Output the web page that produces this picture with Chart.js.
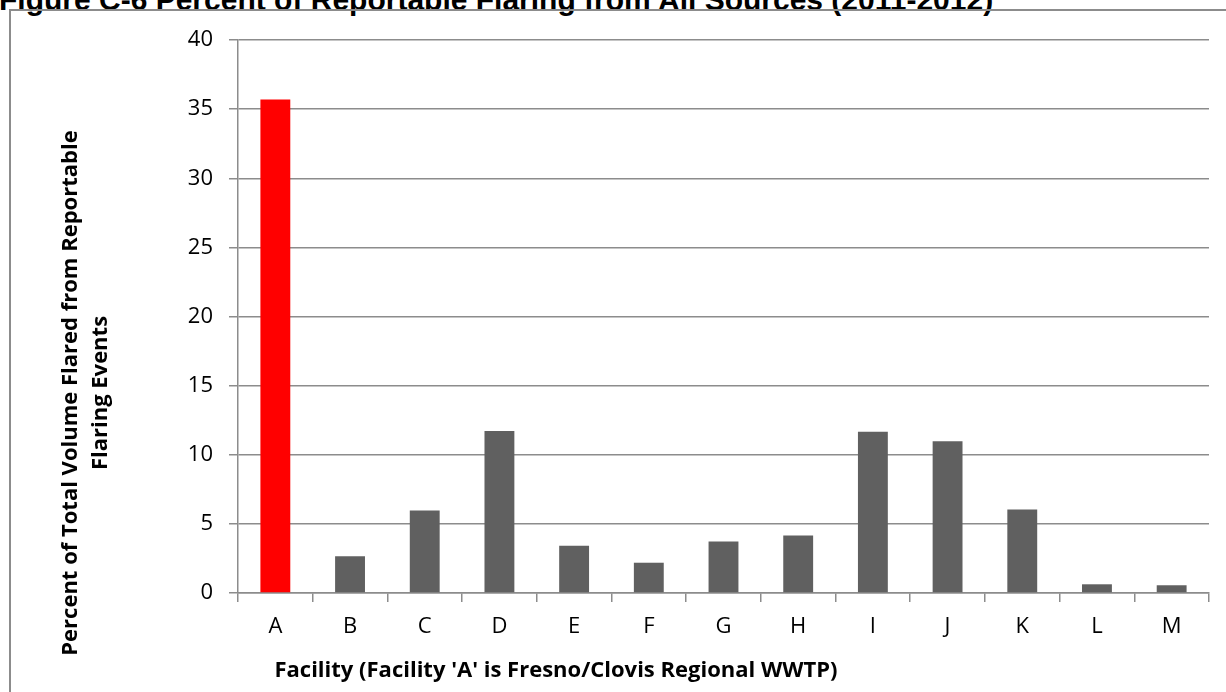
<!DOCTYPE html>
<html>
<head>
<meta charset="utf-8">
<script src="https://cdn.jsdelivr.net/npm/chart.js@4.4.1/dist/chart.umd.min.js"></script>
<style>
    html, body { margin: 0; padding: 0; background: #fff; overflow: hidden; }
    #wrap { position: relative; width: 1226px; height: 692px; }
    #frame {
        position: absolute; left: 9px; top: 9px; right: -5px; bottom: -5px;
        border-left: 2px solid #8c8c8c; border-top: 2px solid #8c8c8c;
    }
    #fig-title {
        position: absolute; left: -1px; top: -17px; white-space: nowrap;
        font: bold 30px "Liberation Sans", Arial, sans-serif; color: #000;
    }
    #y-title {
        position: absolute; left: 83px; top: 393px; width: 700px;
        transform: translate(-50%, -50%) rotate(-90deg);
        text-align: center; line-height: 31px; color: #000;
        font: bold 22px "Open Sans", sans-serif;
    }
    #x-title {
        position: absolute; left: 556px; top: 668px; white-space: nowrap;
        transform: translate(-50%, -50%);
        font: bold 22px "Open Sans", sans-serif; color: #000;
    }
    canvas { position: absolute; left: 0; top: 0; }
</style>
</head>
<body>
<div id="wrap">
    <div id="fig-title">Figure C-6 Percent of Reportable Flaring from All Sources (2011-2012)</div>
    <div id="frame"></div>
    <canvas id="flaring-chart" width="1226" height="692"></canvas>
    <div id="y-title">Percent of Total Volume Flared from Reportable<br>Flaring Events</div>
    <div id="x-title">Facility (Facility 'A' is Fresno/Clovis Regional WWTP)</div>
</div>
<script>
// Chart data
const facilities = ['A', 'B', 'C', 'D', 'E', 'F', 'G', 'H', 'I', 'J', 'K', 'L', 'M'];
const percentFlared = [35.7, 2.65, 5.97, 11.72, 3.42, 2.19, 3.73, 4.16, 11.67, 10.97, 6.04, 0.63, 0.56];
const yTickValues = [0, 5, 10, 15, 20, 25, 30, 35, 40];

const AXIS_GRAY = '#8c8c8c';

const ctx = document.getElementById('flaring-chart').getContext('2d');

new Chart(ctx, {
    type: 'bar',
    data: {
        labels: facilities,
        datasets: [{
            data: percentFlared,
            // highlight facility A
            backgroundColor: c => c.dataIndex === 0 ? '#ff0000' : '#606060',
            borderWidth: 0,
            barPercentage: 0.4,
            categoryPercentage: 1.0
        }]
    },
    options: {
        responsive: false,
        animation: false,
        layout: { padding: { left: 0, top: 40, right: 17, bottom: 0 } },
        plugins: {
            legend: { display: false },
            tooltip: { enabled: false }
        },
        scales: {
            x: {
                grid: {
                    offset: true,
                    drawOnChartArea: false,
                    drawTicks: true,
                    tickLength: 9,
                    color: AXIS_GRAY,
                    lineWidth: 1.5
                },
                border: { display: true, color: AXIS_GRAY, width: 1.5 },
                ticks: {
                    color: '#000',
                    padding: 12,
                    maxRotation: 0,
                    font: { family: 'Open Sans', size: 22 }
                },
                afterFit: scale => { scale.height = 99; }
            },
            y: {
                min: 0,
                max: 40,
                afterBuildTicks: scale => {
                    scale.ticks = yTickValues.map(v => ({ value: v }));
                },
                grid: {
                    color: AXIS_GRAY,
                    lineWidth: 1.5,
                    drawTicks: true,
                    tickLength: 9
                },
                border: { display: true, color: AXIS_GRAY, width: 1.5 },
                ticks: {
                    color: '#000',
                    padding: 16,
                    font: { family: 'Open Sans', size: 22 }
                },
                afterFit: scale => { scale.width = 238; }
            }
        }
    }
});
</script>
</body>
</html>
